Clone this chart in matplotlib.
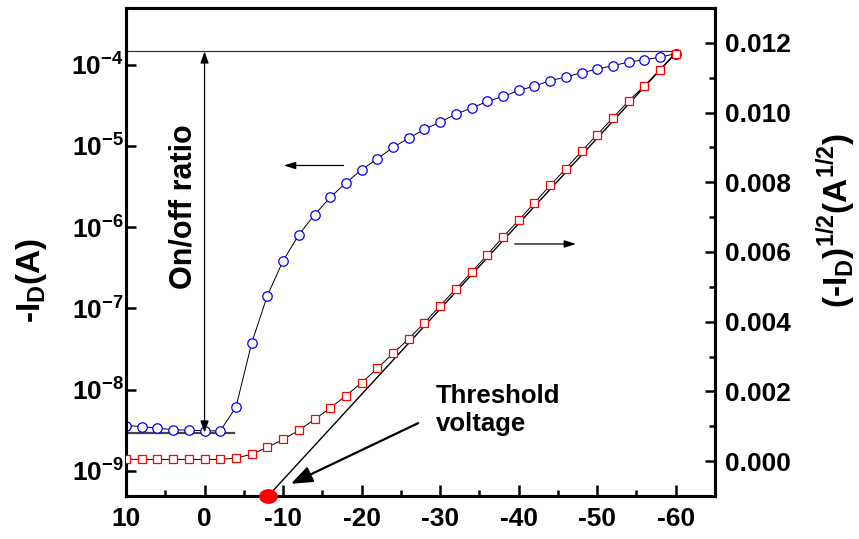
import matplotlib
matplotlib.use('Agg')
import matplotlib.pyplot as plt
from matplotlib.ticker import MultipleLocator, NullLocator, FormatStrFormatter, FixedLocator
from matplotlib.path import Path

plt.rcParams['font.family'] = 'Liberation Sans'
plt.rcParams['font.weight'] = 'bold'
plt.rcParams['axes.unicode_minus'] = False
plt.rcParams['mathtext.fontset'] = 'custom'
plt.rcParams['mathtext.rm'] = 'Liberation Sans:bold'
plt.rcParams['mathtext.bf'] = 'Liberation Sans:bold'

# ─── DATA ─────────────────────────────────────────────────────────────
vg = [10, 8, 6, 4, 2, 0, -2, -4, -6, -8, -10, -12, -14, -16, -18, -20, -22, -24,
      -26, -28, -30, -32, -34, -36, -38, -40, -42, -44, -46, -48, -50, -52, -54,
      -56, -58, -60]
# -I_D (A), log axis
id_log = [3.61e-9, 3.51e-9, 3.36e-9, 3.20e-9, 3.17e-9, 3.11e-9, 3.11e-9, 6.08e-9,
          3.74e-8, 1.44e-7, 3.86e-7, 8.05e-7, 1.42e-6, 2.32e-6, 3.52e-6, 5.09e-6,
          6.95e-6, 9.59e-6, 1.25e-5, 1.60e-5, 1.97e-5, 2.47e-5, 2.93e-5, 3.53e-5,
          4.07e-5, 4.82e-5, 5.47e-5, 6.36e-5, 7.06e-5, 7.97e-5, 8.85e-5, 9.73e-5,
          1.08e-4, 1.15e-4, 1.24e-4, 1.37e-4]
# (-I_D)^1/2 (A^1/2), linear axis
id_sqrt = [5.7e-5, 4.9e-5, 4.9e-5, 4.9e-5, 4.9e-5, 4.9e-5, 4.9e-5, 8.6e-5,
           2.00e-4, 3.93e-4, 6.23e-4, 8.81e-4, 1.197e-3, 1.521e-3, 1.877e-3, 2.25e-3,
           2.66e-3, 3.09e-3, 3.51e-3, 3.97e-3, 4.46e-3, 4.94e-3, 5.42e-3, 5.92e-3,
           6.43e-3, 6.91e-3, 7.41e-3, 7.91e-3, 8.39e-3, 8.89e-3, 9.37e-3, 9.85e-3,
           1.033e-2, 1.077e-2, 1.123e-2, 1.169e-2]

x_ticks = [10, 0, -10, -20, -30, -40, -50, -60]
x_minor = [5, -5, -15, -25, -35, -45, -55, -65]
log_ticks = [1e-9, 1e-8, 1e-7, 1e-6, 1e-5, 1e-4]

# linear fit for threshold voltage
fit_v = [-8.1, -60.3]
fit_y = [-0.001, 0.01179]
vth = -8.1

# on / off current levels
i_on = 1.46e-4
i_off = 2.96e-9

# ─── FIGURE ───────────────────────────────────────────────────────────
fig = plt.figure(figsize=(8.59, 5.39), dpi=100)
ax = fig.add_axes([0.1467, 0.0798, 0.6857, 0.9054])
ax2 = ax.twinx()

ax.set_yscale('log')
ax.set_xlim(10, -65)
ax.set_ylim(4.9e-10, 5e-4)
ax2.set_ylim(-0.001, 0.013)

ax.plot(vg, id_log, '-', color='black', lw=0.7, marker='o', ms=6.8,
        mfc='white', mec='#0000FF', mew=0.9, zorder=3)
ax2.plot(vg, id_sqrt, '-', color='black', lw=0.7, marker='s', ms=6.0,
         mfc='white', mec='#FF0000', mew=0.9, zorder=3)
ax2.plot(fit_v, fit_y, '-', color='black', lw=1.0, zorder=2)

# on/off level lines
ax.plot([10, -60.3], [i_on, i_on], '-', color='#333333', lw=0.9)
ax.plot([10, -3.7], [i_off, i_off], '-', color='#444444', lw=1.6)
ax.annotate('', xy=(0, i_on), xytext=(0, i_off),
            arrowprops=dict(arrowstyle='<|-|>,head_length=0.7,head_width=0.25',
                            color='black', lw=0.9, shrinkA=0, shrinkB=0))
ax.text(2.7, 1.8e-6, 'On/off ratio', rotation=90, ha='center', va='center',
        fontsize=22)

# axis-direction arrows
ax.annotate('', xy=(-10.1, 5.75e-6), xytext=(-17.7, 5.75e-6),
            arrowprops=dict(arrowstyle='-|>,head_length=0.7,head_width=0.22',
                            color='black', lw=0.9, shrinkA=0, shrinkB=0))
ax2.annotate('', xy=(-47.3, 0.00623), xytext=(-39.5, 0.00623),
             arrowprops=dict(arrowstyle='-|>,head_length=0.7,head_width=0.22',
                             color='black', lw=0.9, shrinkA=0, shrinkB=0))

# threshold voltage
ax2.annotate('', xy=(-11.0, -0.00065), xytext=(-27.2, 0.00109),
             arrowprops=dict(arrowstyle='-|>,head_length=1.3,head_width=0.5',
                             color='black', lw=1.6, shrinkA=0, shrinkB=0))
ax2.text(-29.4, 0.00222, 'Threshold\nvoltage', ha='left', va='top',
         fontsize=18.5, linespacing=1.25)
circ = Path.unit_circle()
ellipse = Path(circ.vertices * [1.3, 1.0], circ.codes)
ax2.plot([vth], [-0.001], linestyle='none', marker=ellipse, ms=12.5,
         color='#FF0000', clip_on=False, zorder=5)

# ─── AXES STYLE ───────────────────────────────────────────────────────
for a in (ax, ax2):
    for s in a.spines.values():
        s.set_linewidth(2.2)

ax.xaxis.set_major_locator(FixedLocator(x_ticks))
ax.xaxis.set_minor_locator(FixedLocator(x_minor))
ax.yaxis.set_major_locator(FixedLocator(log_ticks))
ax.yaxis.set_minor_locator(NullLocator())
ax2.yaxis.set_major_locator(MultipleLocator(0.002))
ax2.yaxis.set_minor_locator(MultipleLocator(0.001))
ax2.yaxis.set_major_formatter(FormatStrFormatter('%.3f'))

ax.tick_params(axis='x', which='major', direction='in', length=8, width=1.8,
               labelsize=19, pad=8, top=False)
ax.tick_params(axis='x', which='minor', direction='in', length=4.5, width=1.8, top=False)
ax.tick_params(axis='y', which='major', direction='in', length=7, width=1.8,
               labelsize=19, pad=1.5, right=False)
ax2.tick_params(axis='y', which='major', direction='in', length=7, width=1.8,
                labelsize=19, pad=7)
ax2.tick_params(axis='y', which='minor', direction='in', length=4, width=1.8)

fig.text(0.037, 1 - 280 / 539, '-I$_\\mathdefault{D}$(A)', rotation=90,
         ha='center', va='center', fontsize=24)
fig.text(0.973, 1 - 221 / 539,
         '(-I$_\\mathdefault{D}$)$^\\mathdefault{1/2}$(A$^\\mathdefault{1/2}$)',
         rotation=90, ha='center', va='center', fontsize=24)

fig.savefig('out.png', dpi=100)
